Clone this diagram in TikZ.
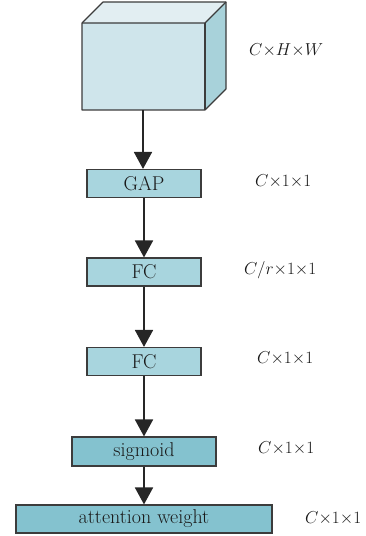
\documentclass[tikz,border=0pt]{standalone}
\usetikzlibrary{arrows.meta}
\definecolor{cubefront}{RGB}{207,229,235}
\definecolor{cubetop}{RGB}{226,238,242}
\definecolor{cubeside}{RGB}{168,210,218}
\definecolor{boxlight}{RGB}{168,213,222}
\definecolor{boxdark}{RGB}{132,194,207}
\definecolor{edge}{RGB}{60,60,60}
\tikzset{
  stage/.style={draw=edge, line width=1.1pt, minimum height=28pt, inner sep=0pt, font=\fontsize{20}{22}\selectfont, text=black!90},
  lightbox/.style={stage, fill=boxlight},
  darkbox/.style={stage, fill=boxdark},
  dimlabel/.style={font=\fontsize{17}{19}\selectfont, text=black!90, anchor=west, inner sep=0pt},
  flow/.style={draw=black!85, line width=1.8pt, -{Triangle[width=18pt,length=17pt]}}
}
\begin{document}
\begin{tikzpicture}[x=1pt,y=-1pt]
\useasboundingbox (0,0) rectangle (365,536);
% cube
\fill[cubetop] (82,23) -- (103,2) -- (226,2) -- (205,23) -- cycle;
\fill[cubeside] (205,23) -- (226,2) -- (226,89) -- (205,110) -- cycle;
\fill[cubefront] (82,23) rectangle (205,110);
\draw[edge, line width=1.1pt, line join=round] (82,23) -- (103,2) -- (226,2) -- (226,89) -- (205,110) -- (82,110) -- cycle;
\draw[edge, line width=1.1pt] (82,23) -- (205,23) -- (226,2);
\draw[edge, line width=1.1pt] (205,23) -- (205,110);
\coordinate (cubebot) at (143,110);
% boxes
\node[lightbox, minimum width=114pt] (gap) at (144,183.5) {GAP};
\node[lightbox, minimum width=114pt] (fc1) at (144,272) {FC};
\node[lightbox, minimum width=114pt] (fc2) at (144,361.5) {FC};
\node[darkbox, minimum width=144pt, minimum height=29pt] (sig) at (144,451.5) {sigmoid};
\node[darkbox, minimum width=256pt] (att) at (144,519) {attention weight};
% arrows
\draw[flow] (cubebot) -- (cubebot |- gap.north);
\draw[flow] (gap) -- (fc1);
\draw[flow] (fc1) -- (fc2);
\draw[flow] (fc2) -- (sig);
\draw[flow] (sig) -- (att);
% labels
\node[dimlabel] (l0) at (249,50) {$C{\times}H{\times}W$};
\node[dimlabel] (l1) at (255,181) {$C{\times}1{\times}1$};
\node[dimlabel] (l2) at (244,270) {$C/r{\times}1{\times}1$};
\node[dimlabel] (l3) at (257,358) {$C{\times}1{\times}1$};
\node[dimlabel] (l4) at (258,448) {$C{\times}1{\times}1$};
\node[dimlabel] (l5) at (305,518) {$C{\times}1{\times}1$};
\end{tikzpicture}
\end{document}
